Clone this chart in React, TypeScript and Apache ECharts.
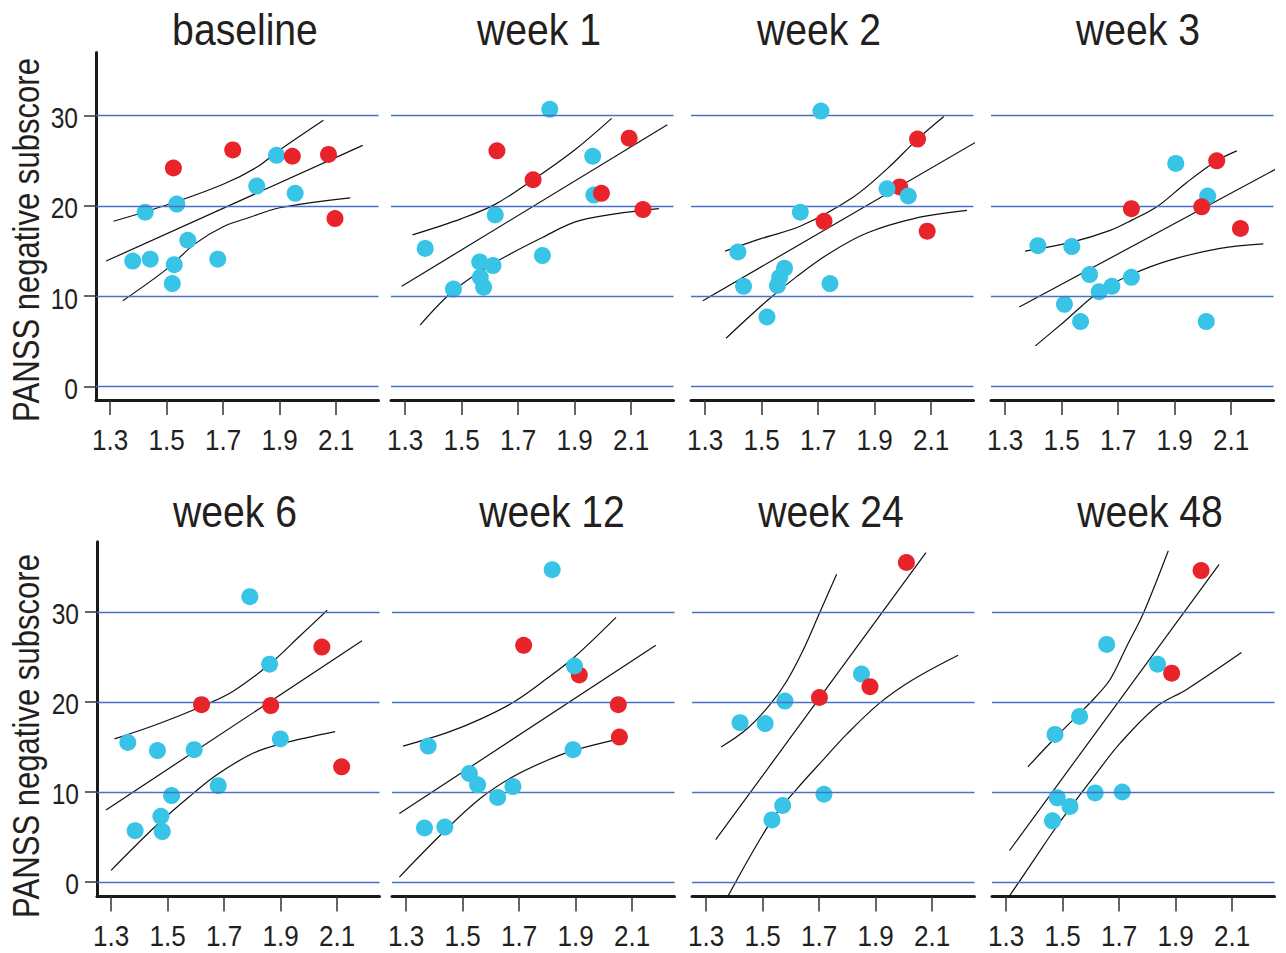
import React, { useEffect, useRef } from "react";
import * as echarts from "echarts";

const panelTitles = ["baseline", "week 1", "week 2", "week 3", "week 6", "week 12", "week 24", "week 48"];
const xTicks = [1.3, 1.5, 1.7, 1.9, 2.1];
const yTicks = [0, 10, 20, 30];
const yAxisTitle = "PANSS negative subscore";

const cyanPoints: number[][][] = [
  [[1.38, 13.9], [1.424, 19.3], [1.442, 14.1], [1.536, 20.2], [1.575, 16.2], [1.527, 13.5], [1.52, 11.4], [1.681, 14.1], [1.819, 22.2], [1.889, 25.6], [1.955, 21.4]],
  [[1.812, 30.7], [1.964, 25.5], [1.968, 21.2], [1.619, 19.0], [1.371, 15.3], [1.564, 13.8], [1.611, 13.4], [1.786, 14.5], [1.471, 10.8], [1.566, 12.1], [1.578, 11.0]],
  [[1.71, 30.5], [1.637, 19.3], [1.416, 14.9], [1.944, 21.9], [2.019, 21.1], [1.436, 11.1], [1.581, 13.1], [1.564, 12.1], [1.556, 11.2], [1.742, 11.4], [1.519, 7.7]],
  [[1.904, 24.7], [2.017, 21.1], [1.416, 15.6], [1.536, 15.5], [1.599, 12.4], [1.747, 12.1], [1.678, 11.1], [1.633, 10.5], [1.51, 9.1], [1.567, 7.2], [2.012, 7.2]],
  [[1.791, 31.7], [1.861, 24.2], [1.899, 15.9], [1.359, 15.5], [1.464, 14.6], [1.594, 14.7], [1.679, 10.7], [1.514, 9.6], [1.476, 7.3], [1.481, 5.6], [1.385, 5.7]],
  [[1.817, 34.7], [1.896, 24.0], [1.378, 15.1], [1.524, 12.05], [1.553, 10.8], [1.624, 9.4], [1.678, 10.6], [1.891, 14.7], [1.365, 6.0], [1.437, 6.1]],
  [[1.85, 23.1], [1.579, 20.1], [1.42, 17.7], [1.509, 17.6], [1.717, 9.75], [1.571, 8.5], [1.533, 6.9]],
  [[1.656, 26.4], [1.836, 24.2], [1.56, 18.4], [1.473, 16.4], [1.481, 9.35], [1.526, 8.4], [1.464, 6.8], [1.615, 9.9], [1.711, 10.0]],
];

const redPoints: number[][][] = [
  [[1.524, 24.2], [1.734, 26.2], [1.945, 25.5], [2.073, 25.7], [2.096, 18.6]],
  [[1.625, 26.1], [1.753, 22.9], [1.995, 21.4], [2.093, 27.5], [2.142, 19.6]],
  [[2.052, 27.4], [1.989, 22.1], [1.721, 18.3], [2.086, 17.2]],
  [[2.049, 25.0], [1.747, 19.7], [1.996, 19.9], [2.133, 17.5]],
  [[1.62, 19.7], [1.865, 19.6], [2.046, 26.1], [2.116, 12.8]],
  [[1.716, 26.3], [1.913, 23.0], [2.051, 19.7], [2.055, 16.1]],
  [[2.009, 35.5], [1.701, 20.5], [1.88, 21.7]],
  [[1.99, 34.6], [1.886, 23.2]],
];

const fitLines: number[][][] = [
  [[1.286, 13.9], [2.194, 26.7]],
  [[1.288, 11.1], [2.228, 29.0]],
  [[1.292, 9.5], [2.337, 28.5]],
  [[1.35, 8.8], [2.295, 24.7]],
  [[1.282, 8.0], [2.188, 26.8]],
  [[1.276, 7.6], [2.184, 26.3]],
  [[1.334, 4.7], [2.078, 36.6]],
  [[1.312, 3.5], [2.054, 35.3]],
];

const upperBands: number[][][] = [
  [[1.312, 18.3], [1.5, 20.1], [1.7, 22.4], [1.82, 24.3], [1.9, 26.2], [2.055, 29.5]],
  [[1.326, 16.8], [1.5, 18.6], [1.62, 20.2], [1.753, 22.9], [1.9, 26.2], [2.031, 29.7]],
  [[1.371, 15.0], [1.5, 16.4], [1.64, 17.8], [1.825, 21.0], [1.944, 24.1], [2.052, 27.4], [2.145, 29.9]],
  [[1.371, 15.0], [1.536, 16.0], [1.672, 17.3], [1.747, 18.4], [1.837, 19.9], [1.943, 22.6], [2.049, 25.0], [2.12, 26.1]],
  [[1.312, 15.9], [1.461, 17.5], [1.62, 19.5], [1.732, 21.2], [1.861, 24.2], [1.967, 27.3], [2.065, 30.2]],
  [[1.289, 15.1], [1.445, 16.6], [1.563, 18.1], [1.681, 20.0], [1.798, 22.6], [1.896, 25.0], [2.043, 29.4]],
  [[1.353, 15.0], [1.444, 17.0], [1.526, 19.7], [1.585, 22.3], [1.644, 25.8], [1.703, 30.0], [1.762, 34.2]],
  [[1.377, 12.8], [1.473, 16.0], [1.562, 18.8], [1.615, 20.5], [1.668, 22.5], [1.727, 26.2], [1.785, 29.8], [1.874, 36.8]],
];

const lowerBands: number[][][] = [
  [[1.345, 9.5], [1.5, 13.0], [1.6, 15.8], [1.7, 17.7], [1.8, 18.8], [1.9, 19.8], [2.15, 20.9]],
  [[1.353, 6.8], [1.471, 10.6], [1.611, 13.6], [1.786, 16.5], [1.92, 18.4], [2.198, 19.7]],
  [[1.374, 5.35], [1.519, 9.5], [1.625, 12.2], [1.742, 14.8], [1.873, 17.0], [2.039, 18.6], [2.227, 19.5]],
  [[1.407, 4.5], [1.506, 7.1], [1.633, 10.5], [1.747, 12.4], [1.884, 14.0], [2.061, 15.3], [2.214, 15.8]],
  [[1.3, 1.3], [1.461, 6.3], [1.591, 9.85], [1.673, 11.9], [1.802, 14.3], [1.908, 15.4], [2.093, 16.7]],
  [[1.276, 0.55], [1.437, 5.7], [1.563, 9.3], [1.678, 11.7], [1.798, 13.5], [1.891, 14.6], [2.055, 15.9]],
  [[1.377, -1.6], [1.533, 6.9], [1.62, 10.3], [1.715, 13.6], [1.797, 16.4], [1.915, 19.9], [2.033, 22.5], [2.192, 25.2]],
  [[1.312, -1.55], [1.408, 2.9], [1.464, 5.5], [1.526, 8.2], [1.62, 12.1], [1.703, 15.4], [1.833, 19.5], [1.939, 21.4], [2.133, 25.5]],
];

const cyanOnTop = [false, false, true, false, false, true, false, false];

const FONT = "'Liberation Sans', Arial, sans-serif";
const TEXT = "#231f20";
const GRID_BLUE = "#4a70c6";
const CYAN = "#37c4e7";
const RED = "#e8232a";

const gridLefts = [96, 391, 691, 991, 97, 392, 692, 992];
const rowTop = [52.4, 541.8];
const rowHeight = [347.7, 354.6];
const rowYMin = [-1.5, -1.6];
const rowYMax = [37, 37.8];
const titleX = [245, 539, 819, 1138, 235, 552, 831, 1150];
const titleY = [30, 512];
const yTitleY = [240, 736];

export default function App() {
  const ref = useRef<HTMLDivElement>(null);
  useEffect(() => {
    if (!ref.current) return;
    const chart = echarts.init(ref.current, null, { renderer: "svg" });
    const grids: any[] = [];
    const xAxes: any[] = [];
    const yAxes: any[] = [];
    const series: any[] = [];
    for (let i = 0; i < 8; i++) {
      const row = i < 4 ? 0 : 1;
      const col = i % 4;
      grids.push({ left: gridLefts[i], top: rowTop[row], width: 282.5, height: rowHeight[row], containLabel: false });
      xAxes.push({
        type: "value",
        gridIndex: i,
        min: 1.25,
        max: 2.25,
        axisLine: { show: true, onZero: false, lineStyle: { color: "#1a1a1a", width: 3 } },
        axisTick: { show: true, customValues: xTicks, length: 15, lineStyle: { color: "#333", width: 1.5 } },
        axisLabel: { show: false },
        splitLine: { show: false },
      });
      yAxes.push({
        type: "value",
        gridIndex: i,
        min: rowYMin[row],
        max: rowYMax[row],
        show: col === 0,
        axisLine: { show: true, onZero: false, lineStyle: { color: "#1a1a1a", width: 3 } },
        axisTick: { show: true, customValues: yTicks, length: 12, lineStyle: { color: "#333", width: 1.5 } },
        axisLabel: { show: false },
        splitLine: { show: false },
      });
      const lineBase = {
        type: "line",
        xAxisIndex: i,
        yAxisIndex: i,
        showSymbol: false,
        symbol: "none",
        clip: false,
        silent: true,
        z: 2,
        lineStyle: { color: "#111", width: 1.2 },
      };
      series.push({
        ...lineBase,
        name: `fit ${i}`,
        data: fitLines[i],
        markLine: {
          silent: true,
          symbol: ["none", "none"],
          label: { show: false },
          lineStyle: { color: GRID_BLUE, width: 1.3, type: "solid" },
          data: yTicks.map((v) => ({ yAxis: v })),
        },
      });
      series.push({ ...lineBase, name: `upper ${i}`, data: upperBands[i], smooth: 0.35 });
      series.push({ ...lineBase, name: `lower ${i}`, data: lowerBands[i], smooth: 0.35 });
      series.push({
        type: "scatter",
        name: `cyan ${i}`,
        xAxisIndex: i,
        yAxisIndex: i,
        data: cyanPoints[i],
        symbolSize: 17,
        clip: false,
        z: cyanOnTop[i] ? 6 : 4,
        itemStyle: { color: CYAN, opacity: 1 },
      });
      series.push({
        type: "scatter",
        name: `red ${i}`,
        xAxisIndex: i,
        yAxisIndex: i,
        data: redPoints[i],
        symbolSize: 17,
        clip: false,
        z: 5,
        itemStyle: { color: RED, opacity: 1 },
      });
    }
    chart.setOption({
      animation: false,
      backgroundColor: "#ffffff",
      grid: grids,
      xAxis: xAxes,
      yAxis: yAxes,
      series,
    });

    const graphics: any[] = [];
    panelTitles.forEach((t, i) => {
      const row = i < 4 ? 0 : 1;
      graphics.push({
        type: "text",
        x: titleX[i],
        y: titleY[row],
        scaleX: 0.87,
        style: { text: t, fontSize: 45, fill: TEXT, fontFamily: FONT, textAlign: "center", textVerticalAlign: "middle" },
      });
    });
    yTitleY.forEach((y) => {
      graphics.push({
        type: "text",
        x: 26,
        y,
        rotation: Math.PI / 2,
        scaleX: 0.84,
        style: { text: yAxisTitle, fontSize: 37, fill: TEXT, fontFamily: FONT, textAlign: "center", textVerticalAlign: "middle" },
      });
    });
    for (let i = 0; i < 8; i++) {
      const row = i < 4 ? 0 : 1;
      const col = i % 4;
      xTicks.forEach((v) => {
        const p = chart.convertToPixel({ gridIndex: i } as any, [v, rowYMin[row]]) as number[];
        graphics.push({
          type: "text",
          x: p[0],
          y: p[1] + 40,
          scaleX: 0.9,
          style: { text: v.toFixed(1), fontSize: 29, fill: TEXT, fontFamily: FONT, textAlign: "center", textVerticalAlign: "middle" },
        });
      });
      if (col === 0) {
        yTicks.forEach((v) => {
          const p = chart.convertToPixel({ gridIndex: i } as any, [1.25, v]) as number[];
          graphics.push({
            type: "text",
            x: p[0] - 18,
            y: p[1] + 2,
            scaleX: 0.82,
            style: { text: String(v), fontSize: 30, fill: TEXT, fontFamily: FONT, textAlign: "right", textVerticalAlign: "middle" },
          });
        });
      }
    }
    chart.setOption({ graphic: graphics });
    return () => chart.dispose();
  }, []);
  return <div ref={ref} style={{ position: "absolute", left: 0, top: 0, width: 1286, height: 953 }} />;
}
